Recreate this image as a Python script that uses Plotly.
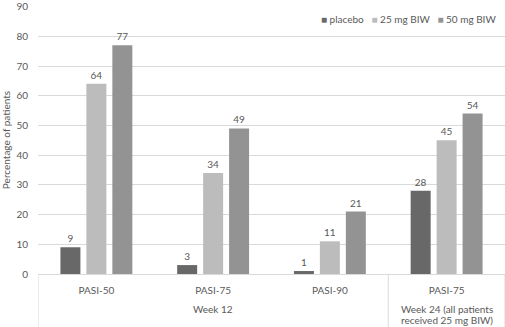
import plotly.graph_objects as go

categories = ["PASI-50", "PASI-75", "PASI-90", "PASI-75"]
group_labels = ["Week 12", "Week 24 (all patients", "received 25 mg BIW)"]
series_names = ["placebo", "25 mg BIW", "50 mg BIW"]
placebo = [9, 3, 1, 28]
mg25 = [64, 34, 11, 45]
mg50 = [77, 49, 21, 54]
colors = ["#686868", "#bcbcbc", "#939393"]

xpos = list(range(len(categories)))
font_family = "Lato, Open Sans, sans-serif"
txt_color = "#595959"
fs = 10

fig = go.Figure()
for name, vals, col in zip(series_names, [placebo, mg25, mg50], colors):
    fig.add_trace(go.Bar(
        x=xpos, y=vals, name=name, marker=dict(color=col, line=dict(width=0)),
        text=[str(v) for v in vals], textposition="outside", cliponaxis=False,
        textfont=dict(size=fs, color=txt_color, family=font_family), showlegend=False,
    ))

# legend (compact, Excel-style)
legend_text = "   ".join(
    f"<span style='color:{c}'>■</span> {n}" for n, c in zip(series_names, colors)
)
fig.add_annotation(x=0.985, xref="paper", y=0.952, yref="paper", xanchor="right",
                   yanchor="middle", text=legend_text, showarrow=False,
                   font=dict(size=fs, color=txt_color, family=font_family))

# group labels
fig.add_annotation(x=1, xref="x", y=-0.13, yref="paper", text=group_labels[0],
                   showarrow=False, yanchor="middle",
                   font=dict(size=fs, color=txt_color, family=font_family))
fig.add_annotation(x=3, xref="x", y=-0.13, yref="paper", text=group_labels[1],
                   showarrow=False, yanchor="middle",
                   font=dict(size=fs, color=txt_color, family=font_family))
fig.add_annotation(x=3, xref="x", y=-0.17, yref="paper", text=group_labels[2],
                   showarrow=False, yanchor="middle",
                   font=dict(size=fs, color=txt_color, family=font_family))
for xd in [-0.5, 2.5, 3.5]:
    fig.add_shape(type="line", xref="x", yref="paper", x0=xd, x1=xd, y0=0, y1=-0.2,
                  line=dict(color="#d9d9d9", width=1))

fig.update_layout(
    width=505, height=327,
    margin=dict(l=38, r=0, t=4, b=53),
    paper_bgcolor="white", plot_bgcolor="white",
    barmode="group", bargap=0.333, bargroupgap=0.23,
    font=dict(family=font_family, size=fs, color=txt_color),
    xaxis=dict(tickmode="array", tickvals=xpos, ticktext=categories, range=[-0.5, 3.5],
               showline=True, linecolor="#d9d9d9", linewidth=1, showgrid=False,
               zeroline=False, ticks="outside", ticklen=7, tickcolor="rgba(0,0,0,0)",
               tickfont=dict(size=fs, color=txt_color)),
    yaxis=dict(range=[0, 90.2], tickmode="array", tickvals=list(range(0, 91, 10)),
               showgrid=True, gridcolor="#d9d9d9", gridwidth=1,
               zeroline=False, showline=False, ticks="outside", ticklen=7,
               tickcolor="rgba(0,0,0,0)", tickfont=dict(size=fs, color=txt_color),
               ticklabeloverflow="allow",
               title=dict(text="Percentage of patients", standoff=6,
                          font=dict(size=fs, color=txt_color))),
)

fig.write_html("out.html")
